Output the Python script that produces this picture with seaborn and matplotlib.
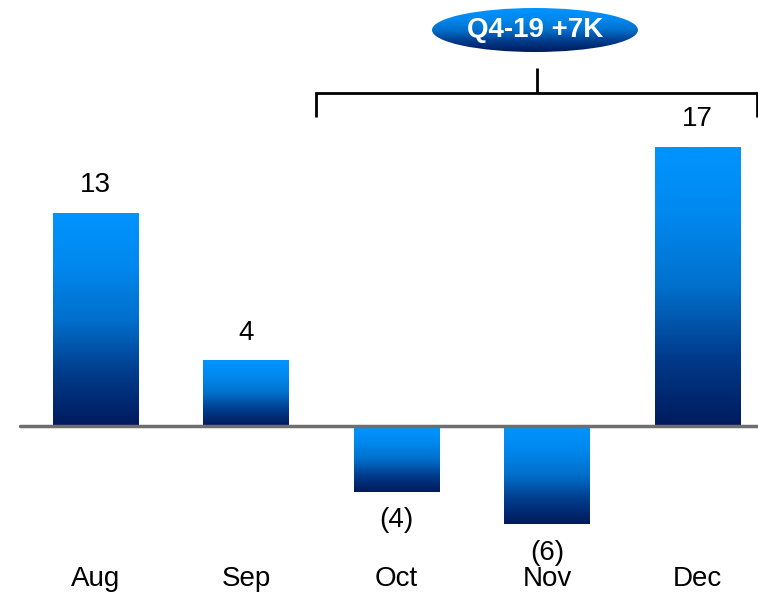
import numpy as np
import matplotlib
matplotlib.use("Agg")
import matplotlib.pyplot as plt
import matplotlib.transforms as mtransforms
from matplotlib.colors import LinearSegmentedColormap
from matplotlib.patches import Ellipse
import seaborn as sns

sns.set_theme(style="white")
plt.rcParams["font.family"] = ["Liberation Sans", "DejaVu Sans"]

# Monthly change (thousands)
months = ["Aug", "Sep", "Oct", "Nov", "Dec"]
values = [13, 4, -4, -6, 17]
value_labels = ["13", "4", "(4)", "(6)", "17"]
quarter_label = "Q4-19 +7K"

blue_grad = LinearSegmentedColormap.from_list(
    "blue_grad",
    [(0.0, "#001a5c"), (0.25, "#003c8c"), (0.5, "#0070cc"),
     (0.75, "#0088ee"), (1.0, "#0094ff")],
)

fig = plt.figure(figsize=(7.58, 5.95), dpi=100)
ax = fig.add_axes([0, 0, 1, 1])
sns.barplot(x=months, y=values, ax=ax, width=0.565, color="#0090ff",
            saturation=1, linewidth=0)

grad = np.linspace(0, 1, 256).reshape(-1, 1)
for patch in ax.patches:
    x0, y0 = patch.get_x(), patch.get_y()
    w, h = patch.get_width(), patch.get_height()
    ylo, yhi = min(y0, y0 + h), max(y0, y0 + h)
    im = ax.imshow(grad, origin="lower", aspect="auto", cmap=blue_grad,
                   extent=[x0, x0 + w, ylo, yhi], zorder=2)
    im.set_clip_path(patch)
    patch.set_facecolor("none")
    patch.set_edgecolor("none")

# 16.4 px per unit, baseline 169 px above the bottom edge
ax.set_xlim(-0.6346, 4.402)
ax.set_ylim(-169 / 16.4, 426 / 16.4)
ax.axis("off")

# zero baseline
ax.axhline(0, xmin=20 / 758, xmax=1, color="#6e6e6e", lw=2.5, zorder=3)

# value labels
for i, (v, lab) in enumerate(zip(values, value_labels)):
    off = 20 if v >= 0 else -20.5
    ax.annotate(lab, (i, v), xytext=(0, off), textcoords="offset points",
                ha="center", va="center", fontsize=20, color="black")

# month labels
trans = mtransforms.blended_transform_factory(ax.transData, ax.transAxes)
for i, m in enumerate(months):
    ax.text(i, 16 / 595, m, transform=trans, ha="center", va="center",
            fontsize=20, color="black")

# quarter bracket and badge
ov = fig.add_axes([0, 0, 1, 1], zorder=5)
ov.axis("off")
ov.patch.set_alpha(0)

H = 595
ov.plot([316, 316, 757, 757], [H - 117, H - 93, H - 93, H - 117],
        color="black", lw=2, solid_joinstyle="miter", solid_capstyle="butt")
ov.plot([537, 537], [H - 93, H - 68], color="black", lw=2,
        solid_capstyle="butt")

ell = Ellipse((535, H - 30), 206, 44, facecolor="none", edgecolor="none")
ov.add_patch(ell)
eim = ov.imshow(grad, origin="lower", aspect="auto", cmap=blue_grad,
                extent=[432, 638, H - 52, H - 8], zorder=6)
eim.set_clip_path(ell)
ov.set_xlim(0, 758)
ov.set_ylim(0, 595)
ov.text(535, H - 30, quarter_label, ha="center", va="center", color="white",
        fontsize=20, fontweight="bold", zorder=7)

fig.savefig("out.png", dpi=100)
